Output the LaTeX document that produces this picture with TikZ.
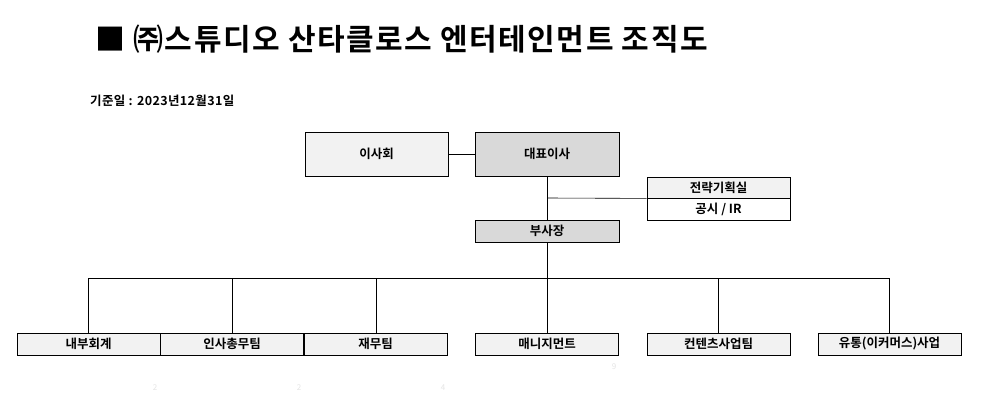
\documentclass[tikz,border=0pt]{standalone}
\usepackage{fontspec}
\setmainfont{Noto Sans CJK KR}[BoldFont={* Bold}]
\definecolor{lg}{HTML}{F2F2F2}
\definecolor{dg}{HTML}{D9D9D9}
\begin{document}
\begin{tikzpicture}[x=1pt,y=-1pt,
  bx/.style={draw=black,line width=0.8pt,font=\bfseries\fontsize{12.5}{13}\selectfont,inner sep=0pt},
  ln/.style={line width=0.6pt}]
\useasboundingbox[fill=white] (0,0) rectangle (993,400);
\node[anchor=west,inner sep=0pt,font=\bfseries\fontsize{30}{32}\selectfont\addfontfeature{LetterSpace=5}] (title) at (95,39) {■ ㈜스튜디오 산타클로스 엔터테인먼트 조직도};
\node[anchor=west,inner sep=0pt,font=\bfseries\fontsize{12.5}{13}\selectfont\addfontfeature{LetterSpace=3}] (date) at (90,101) {기준일 : 2023년12월31일};
\node[bx,fill=lg,minimum width=143pt,minimum height=44pt] (board) at (376.5,154) {이사회};
\node[bx,fill=dg,minimum width=144pt,minimum height=44pt] (ceo) at (547,154) {대표이사};
\node[bx,fill=lg,minimum width=143pt,minimum height=21pt] (plan) at (718.5,187.5) {전략기획실};
\node[bx,fill=white,minimum width=143pt,minimum height=22pt] (ir) at (718.5,209) {공시 / IR};
\node[bx,fill=dg,minimum width=144pt,minimum height=22pt] (vp) at (547,231) {부사장};
\foreach \n/\x/\t in {a/88.5/내부회계,b/232/인사총무팀,c/375.5/재무팀,d/547/매니지먼트,e/718.5/컨텐츠사업팀,f/889.5/유통(이커머스)사업}
  \node[bx,fill=lg,minimum width=143pt,minimum height=22pt] (\n) at (\x,344) {\t};
\draw[ln] (board.east) -- (ceo.west);
\draw[ln] (ceo.south) -- (vp.north);
\coordinate (j1) at (547,198);
\draw[ln] (j1) -- (plan.south west);
\coordinate (hl) at (88,278);
\coordinate (hr) at (889,278);
\draw[ln] (vp.south) -- (547,278);
\draw[ln] (hl) -- (hr);
\foreach \n/\x in {a/88,b/232,c/376,d/547,e/718,f/889}
  \draw[ln] (\x,278) -- (\x,333);
\foreach \x/\y/\t in {155/388/2,299/388/2,443/388/4,614/367/9}
  \node[text=black!10,font=\fontsize{8}{9}\selectfont] at (\x,\y) {\t};
\end{tikzpicture}
\end{document}
